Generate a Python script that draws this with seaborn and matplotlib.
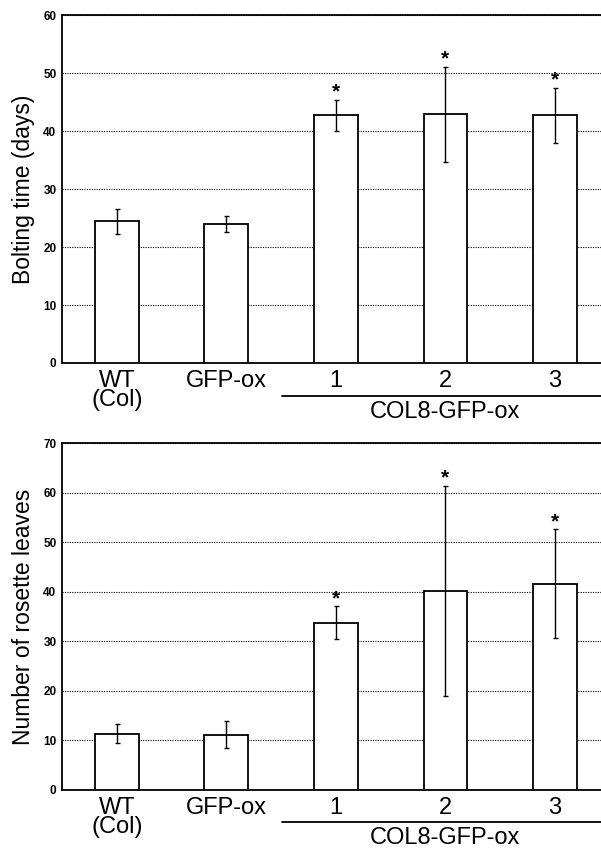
import numpy as np
import matplotlib
matplotlib.use("Agg")
import matplotlib.pyplot as plt
import matplotlib.transforms as mtransforms
import pandas as pd
import seaborn as sns

# Data (mean +/- error)
categories = ["WT\n(Col)", "GFP-ox", "1", "2", "3"]
bolting_mean = [24.4, 24.0, 42.7, 42.9, 42.7]
bolting_err = [2.2, 1.4, 2.7, 8.2, 4.8]
leaves_mean = [11.4, 11.2, 33.8, 40.2, 41.6]
leaves_err = [1.85, 2.8, 3.3, 21.2, 11.0]
significant = [False, False, True, True, True]
group_label = "COL8-GFP-ox"

sns.set_style("white")
plt.rcParams["font.family"] = ["Liberation Sans", "DejaVu Sans"]
plt.rcParams["text.color"] = "black"
plt.rcParams["axes.labelcolor"] = "black"
plt.rcParams["xtick.color"] = "black"
plt.rcParams["ytick.color"] = "black"

fig = plt.figure(figsize=(6.01, 8.5), dpi=100)
ax_top = fig.add_axes([62 / 601, 1 - 363 / 850, 1 - 62 / 601, 348 / 850])
ax_bot = fig.add_axes([62 / 601, 1 - 790 / 850, 1 - 62 / 601, 346.7 / 850])


def draw_panel(ax, means, errs, ymax, ylabel, line_y, text_y):
    df = pd.DataFrame({"cat": categories, "val": means})
    sns.barplot(data=df, x="cat", y="val", color="white", edgecolor="black",
                linewidth=1.3, width=0.4, errorbar=None, ax=ax, zorder=3)
    for p in ax.patches:
        p.set_facecolor("white")
    xs = np.arange(len(categories))
    ax.errorbar(xs, means, yerr=errs, fmt="none", ecolor="black",
                elinewidth=1.0, capsize=1.8, capthick=1.0, zorder=4)
    for x, m, e, s in zip(xs, means, errs, significant):
        if s:
            ax.annotate("*", (x, m + e), xytext=(0, 1.5), textcoords="offset points",
                        ha="center", va="baseline", fontsize=15, fontweight="bold")
    ax.set_xlim(-0.5, 4.42)
    ax.set_ylim(0, ymax)
    ax.set_yticks(np.arange(0, ymax + 1, 10))
    ax.yaxis.grid(True, color="black", linestyle=(0, (1, 1.2)), linewidth=0.8)
    ax.set_axisbelow(True)
    ax.tick_params(axis="y", length=0, pad=4, labelsize=8.5)
    for lab in ax.get_yticklabels():
        lab.set_fontweight("bold")
    ax.tick_params(axis="x", length=0, pad=5, labelsize=17)
    for lab in ax.get_xticklabels():
        lab.set_linespacing(0.82)
    ax.set_xlabel("")
    ax.set_ylabel(ylabel, fontsize=16.5, labelpad=6)
    for side in ["top", "left", "bottom"]:
        ax.spines[side].set_visible(True)
        ax.spines[side].set_color("black")
        ax.spines[side].set_linewidth(1.3)
    ax.spines["right"].set_visible(False)
    trans = mtransforms.blended_transform_factory(ax.transData, ax.transAxes)
    ax.plot([1.507, 4.42], [line_y, line_y], color="black", linewidth=1.3,
            transform=trans, clip_on=False)
    ax.text(3.0, text_y, group_label, transform=trans, ha="center", va="center",
            fontsize=17, clip_on=False)


draw_panel(ax_top, bolting_mean, bolting_err, 60, "Bolting time (days)", -0.094, -0.14)
draw_panel(ax_bot, leaves_mean, leaves_err, 70, "Number of rosette leaves", -0.093, -0.138)

fig.savefig("out.png", dpi=100)
